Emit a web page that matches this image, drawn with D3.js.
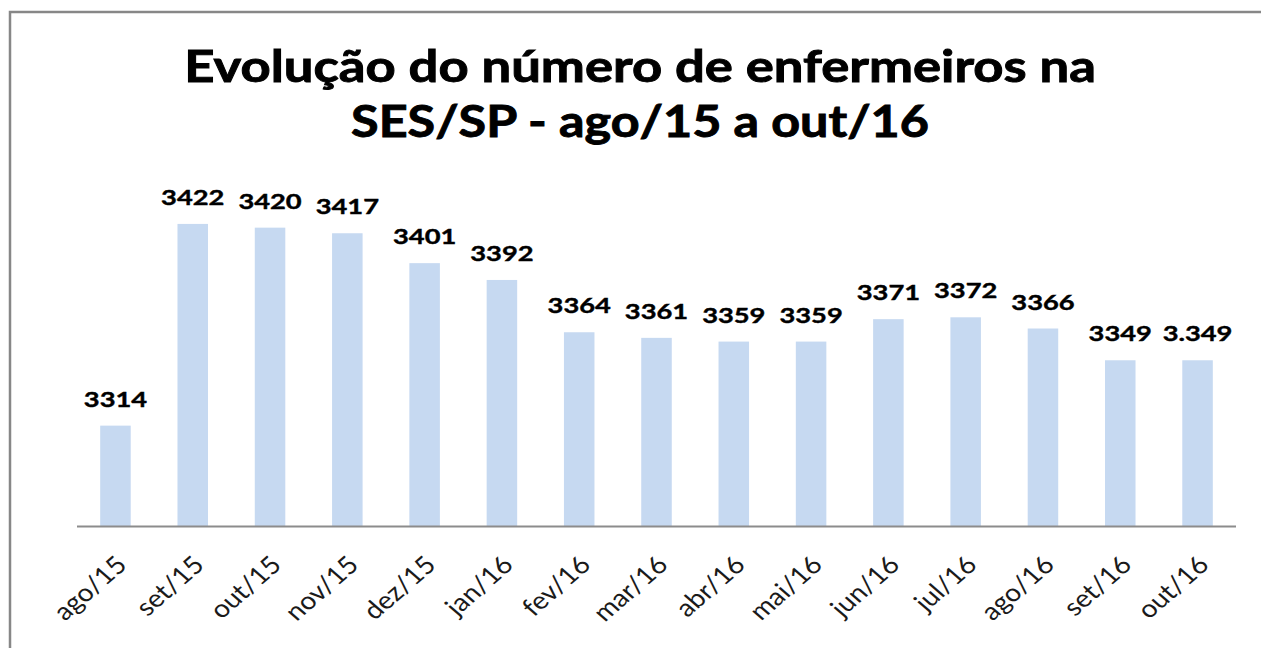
<!DOCTYPE html>
<html>
<head>
<meta charset="utf-8">
<script src="https://cdn.jsdelivr.net/npm/d3@7"></script>
<style>
  html, body { margin: 0; padding: 0; background: #fff; }
  svg { display: block; font-family: Lato, "Open Sans", sans-serif; }
</style>
</head>
<body>
<script>
// data
var months = ['ago/15', 'set/15', 'out/15', 'nov/15', 'dez/15', 'jan/16', 'fev/16', 'mar/16',
              'abr/16', 'mai/16', 'jun/16', 'jul/16', 'ago/16', 'set/16', 'out/16'];
var nurses = [3314, 3422, 3420, 3417, 3401, 3392, 3364, 3361, 3359, 3359, 3371, 3372, 3366, 3349, 3349];
var valueLabels = ['3314', '3422', '3420', '3417', '3401', '3392', '3364', '3361', '3359', '3359',
                   '3371', '3372', '3366', '3349', '3.349'];
var titleLines = ['Evolução do número de enfermeiros na', 'SES/SP - ago/15 a out/16'];

var width = 1261, height = 648;
var sx = 1.3; // the picture is stretched sideways

var svg = d3.select('body').append('svg')
  .attr('width', width)
  .attr('height', height);

svg.append('rect').attr('width', width).attr('height', height).attr('fill', '#fff');

// chart frame (only top and left edges visible)
svg.append('path')
  .attr('d', 'M10,' + height + 'V12H' + width)
  .attr('fill', 'none')
  .attr('stroke', '#878787')
  .attr('stroke-width', 2.5);

var x = d3.scaleBand()
  .domain(months)
  .range([77, 1236])
  .paddingInner(0.605)
  .paddingOuter(0.3);

var y = d3.scaleLinear()
  .domain([3260, 3440])
  .range([526.5, 190.3]);

// title, fitted to the stretched widths
var titleWidths = [912, 578];
var titleY = [82, 137];
titleLines.forEach(function (line, i) {
  var t = svg.append('text')
    .attr('text-anchor', 'middle')
    .attr('font-weight', 'bold')
    .attr('font-size', 44)
    .attr('fill', '#000')
    .attr('stroke', '#000')
    .attr('stroke-width', 0.9)
    .text(line);
  var w = t.node().getComputedTextLength();
  t.attr('transform', 'translate(640,' + titleY[i] + ') scale(' + (titleWidths[i] / w) + ',1)');
});

// bars
svg.append('g').selectAll('rect')
  .data(nurses)
  .join('rect')
  .attr('x', function (d, i) { return x(months[i]); })
  .attr('y', function (d) { return y(d); })
  .attr('width', x.bandwidth())
  .attr('height', function (d) { return y.range()[0] - y(d); })
  .attr('fill', '#c6d9f1');

// value labels
svg.append('g').selectAll('text')
  .data(nurses)
  .join('text')
  .attr('transform', function (d, i) {
    return 'translate(' + (x(months[i]) + x.bandwidth() / 2) + ',' + (y(d) - 19) + ') scale(' + sx + ',1)';
  })
  .attr('text-anchor', 'middle')
  .attr('font-weight', 'bold')
  .attr('font-size', 21)
  .attr('fill', '#000')
  .attr('stroke', '#000')
  .attr('stroke-width', 0.4)
  .text(function (d, i) { return valueLabels[i]; });

// x axis
var xAxis = svg.append('g')
  .attr('transform', 'translate(0,' + y.range()[0] + ')')
  .call(d3.axisBottom(x).tickSize(0).tickPadding(0));
xAxis.select('.domain').attr('stroke', '#8c8c8c').attr('stroke-width', 2)
  .attr('d', 'M77,0H1236');
xAxis.selectAll('text')
  .attr('font-family', 'Lato, "Open Sans", sans-serif')
  .attr('font-size', 24.5)
  .attr('fill', '#1a1a1a')
  .attr('text-anchor', 'end')
  .attr('dy', 0)
  .attr('y', 0)
  .attr('transform', 'translate(13,40) scale(1.15,1) rotate(-45)');
</script>
</body>
</html>
